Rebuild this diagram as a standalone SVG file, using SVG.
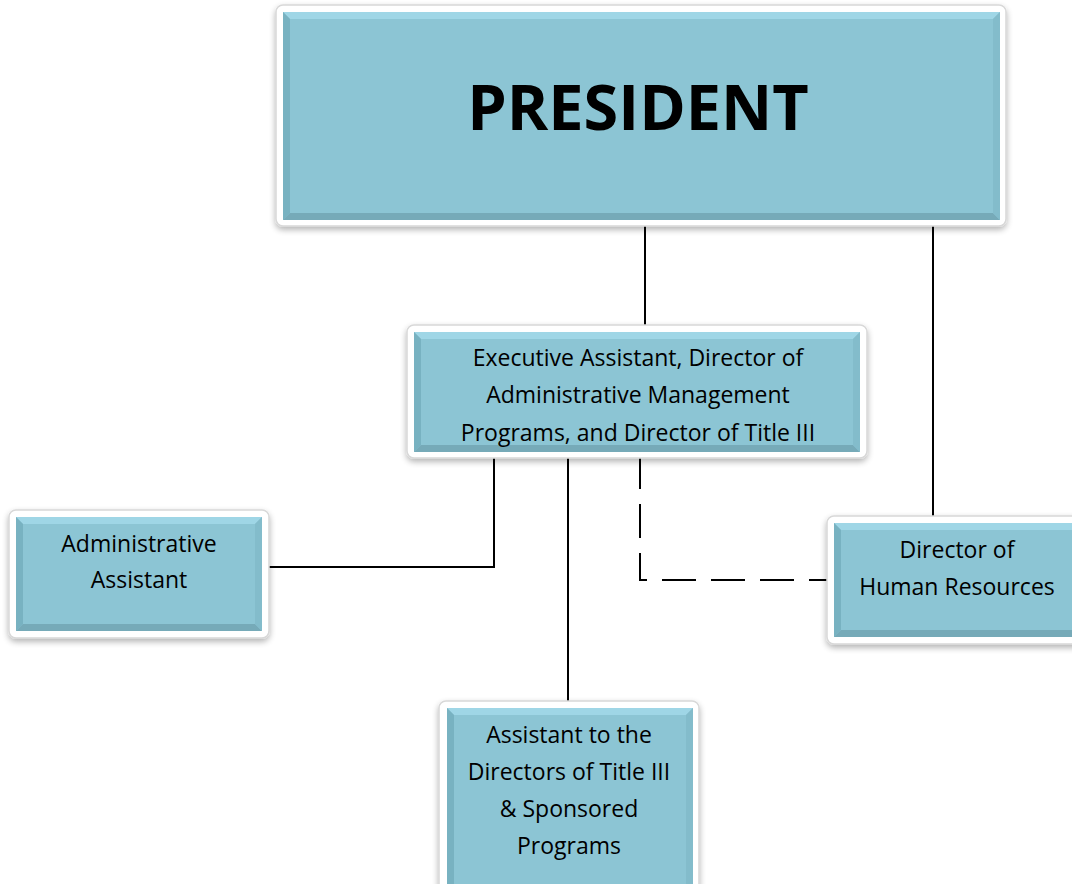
<svg xmlns="http://www.w3.org/2000/svg" width="1072" height="884" viewBox="0 0 1072 884">
<defs>
<filter id="sh" x="-10%" y="-10%" width="120%" height="130%">
<feGaussianBlur in="SourceAlpha" stdDeviation="3"/>
<feOffset dx="0" dy="3"/>
<feComponentTransfer><feFuncA type="linear" slope="0.3"/></feComponentTransfer>
<feMerge><feMergeNode/><feMergeNode in="SourceGraphic"/></feMerge>
</filter>
</defs>
<style>
.frame{fill:#fff;stroke:#d8d8d8;stroke-width:1.5;filter:url(#sh)}
.face{fill:#8CC5D4}
.bt{fill:#9FD6E6}
.bl{fill:#78B2C1}
.bb{fill:#76AAB8}
.br{fill:#83BCCB}
.t{font-family:"Open Sans","Liberation Sans",sans-serif;font-size:23px;fill:#000;text-anchor:middle}
.big{font-family:"Open Sans","Liberation Sans",sans-serif;font-size:63px;font-weight:bold;fill:#000;text-anchor:middle}
.c{stroke:#000;stroke-width:2;fill:none}
</style>
<rect width="1072" height="884" fill="#fff"/>
<g id="connectors">
<line class="c" x1="645" y1="220" x2="645" y2="326"/>
<line class="c" x1="933" y1="220" x2="933" y2="522"/>
<polyline class="c" points="494,456 494,567 269,567"/>
<line class="c" x1="568" y1="455" x2="568" y2="705"/>
<polyline class="c" points="640,455 640,580 827,580" stroke-dasharray="34,15"/>
</g>
<g id="president">
<rect class="frame" x="276" y="5" width="730" height="221" rx="7"/>
<rect class="face" x="283" y="12" width="717" height="208"/>
<polygon class="bt" points="283,12 1000,12 993,19 290,19"/>
<polygon class="bl" points="283,12 290,19 290,213 283,220"/>
<polygon class="bb" points="283,220 290,213 993,213 1000,220"/>
<polygon class="br" points="1000,12 1000,220 993,213 993,19"/>
<text class="big" x="638" y="130">PRESIDENT</text>
</g>
<g id="exec">
<rect class="frame" x="407" y="325" width="460" height="133" rx="7"/>
<rect class="face" x="414" y="332" width="446" height="120"/>
<polygon class="bt" points="414,332 860,332 853,339 421,339"/>
<polygon class="bl" points="414,332 421,339 421,445 414,452"/>
<polygon class="bb" points="414,452 421,445 853,445 860,452"/>
<polygon class="br" points="860,332 860,452 853,445 853,339"/>
<text class="t" x="638" y="366">Executive Assistant, Director of</text>
<text class="t" x="638" y="403">Administrative Management</text>
<text class="t" x="638" y="441">Programs, and Director of Title III</text>
</g>
<g id="admin">
<rect class="frame" x="9" y="510" width="260" height="128" rx="7"/>
<rect class="face" x="16" y="517" width="246" height="114"/>
<polygon class="bt" points="16,517 262,517 255,524 23,524"/>
<polygon class="bl" points="16,517 23,524 23,624 16,631"/>
<polygon class="bb" points="16,631 23,624 255,624 262,631"/>
<polygon class="br" points="262,517 262,631 255,624 255,524"/>
<text class="t" x="139" y="552">Administrative</text>
<text class="t" x="139" y="588">Assistant</text>
</g>
<g id="hr">
<rect class="frame" x="827" y="516" width="260" height="128" rx="7"/>
<rect class="face" x="834" y="523" width="246" height="114"/>
<polygon class="bt" points="834,523 1080,523 1073,530 841,530"/>
<polygon class="bl" points="834,523 841,530 841,630 834,637"/>
<polygon class="bb" points="834,637 841,630 1073,630 1080,637"/>
<text class="t" x="957" y="558">Director of</text>
<text class="t" x="957" y="595">Human Resources</text>
</g>
<g id="assistant">
<rect class="frame" x="439" y="701" width="260" height="200" rx="7"/>
<rect class="face" x="447" y="708" width="246" height="190"/>
<polygon class="bt" points="447,708 693,708 686,715 454,715"/>
<polygon class="bl" points="447,708 454,715 454,898 447,898"/>
<polygon class="br" points="693,708 693,898 686,898 686,715"/>
<text class="t" x="569" y="743">Assistant to the</text>
<text class="t" x="569" y="780">Directors of Title III</text>
<text class="t" x="569" y="817">&amp; Sponsored</text>
<text class="t" x="569" y="854">Programs</text>
</g>
</svg>
